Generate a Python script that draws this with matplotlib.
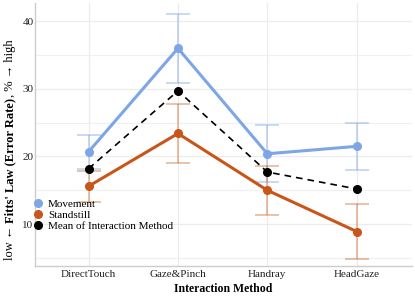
import matplotlib
matplotlib.use("Agg")
import matplotlib.pyplot as plt
import numpy as np
from matplotlib.lines import Line2D

# Fitts' law error rate per interaction method

methods = ['DirectTouch', 'Gaze&Pinch', 'Handray', 'HeadGaze']
movement = [20.7, 36.0, 20.4, 21.5]
movement_err = [2.5, 5.1, 4.2, 3.5]
standstill = [15.6, 23.4, 15.0, 8.9]
standstill_err = [2.3, 4.3, 3.6, 4.0]
mean_method = [18.2, 29.7, 17.7, 15.2]

c_move = '#7ea6e6'
c_still = '#c8561a'
fam = ['Liberation Serif', 'DejaVu Serif']
plt.rcParams['font.family'] = fam

fig = plt.figure(figsize=(4.15, 3.0), dpi=100)
ax = fig.add_axes([0.0843, 0.1133, 0.9087, 0.8767])

x = np.arange(len(methods))

ax.errorbar(x, movement, yerr=movement_err, fmt='none', ecolor=c_move,
            alpha=0.45, elinewidth=1.3, capsize=8.5, capthick=1.3, zorder=2)
ax.errorbar(x, standstill, yerr=standstill_err, fmt='none', ecolor=c_still,
            alpha=0.4, elinewidth=1.3, capsize=8.5, capthick=1.3, zorder=2)

ax.plot(x, movement, color=c_move, lw=2.2, marker='o', ms=5.5, zorder=3)
ax.plot(x, standstill, color=c_still, lw=2.2, marker='o', ms=5.5, zorder=3)
ax.plot(x, mean_method, color='black', lw=1.2, ls=(0, (4, 3)), marker='o', ms=5.5, zorder=4)

ax.set_xlim(-0.6, 3.62)
ax.set_ylim(3.8, 42.7)
ax.set_xticks(x)
ax.set_xticklabels(methods)
ax.set_yticks([10, 20, 30, 40])
ax.set_yticks([5, 15, 25, 35], minor=True)
ax.tick_params(axis='both', which='both', length=0, labelsize=8, colors='#222222')
ax.tick_params(axis='x', pad=3)
ax.tick_params(axis='y', pad=1)
ax.grid(True, which='major', color='#ececec', lw=0.9)
ax.grid(True, which='minor', axis='y', color='#f0f0f0', lw=0.9)
ax.set_axisbelow(True)
for s in ['top', 'right']:
    ax.spines[s].set_visible(False)
for s in ['left', 'bottom']:
    ax.spines[s].set_color('#cccccc')
    ax.spines[s].set_linewidth(1.0)

ax.set_xlabel('Interaction Method', fontsize=8.5, fontweight='bold', labelpad=3)

handles = [Line2D([], [], ls='none', marker='o', ms=5.5, color=c) for c in [c_move, c_still, 'black']]
fig.legend(handles, ['Movement', 'Standstill', 'Mean of Interaction Method'],
           loc='upper left', bbox_to_anchor=(0.062, 0.362), frameon=False,
           fontsize=8, handlelength=0.8, handletextpad=0.5, labelspacing=0.1,
           borderpad=0.2)

# y label with a bold middle part, drawn piece by piece
pieces = [('low \u2190 ', 'normal'), ("Fitts' Law (Error Rate)", 'bold'), (', % \u2192 high', 'normal')]
fs = 9
fig.canvas.draw()
r = fig.canvas.get_renderer()
widths = []
for t, w in pieces:
    tmp = fig.text(0, 0, t.replace(' ', '\u00a0'), fontsize=fs, fontweight=w, family=fam)
    widths.append(tmp.get_window_extent(r).width)
    tmp.remove()
y0 = 150 - sum(widths) / 2
for (t, w), wd in zip(pieces, widths):
    fig.text(10 / 415, y0 / 300, t, rotation=90, rotation_mode='anchor',
             ha='left', va='center', fontsize=fs, fontweight=w, family=fam)
    y0 += wd

fig.savefig('out.png', dpi=100)
